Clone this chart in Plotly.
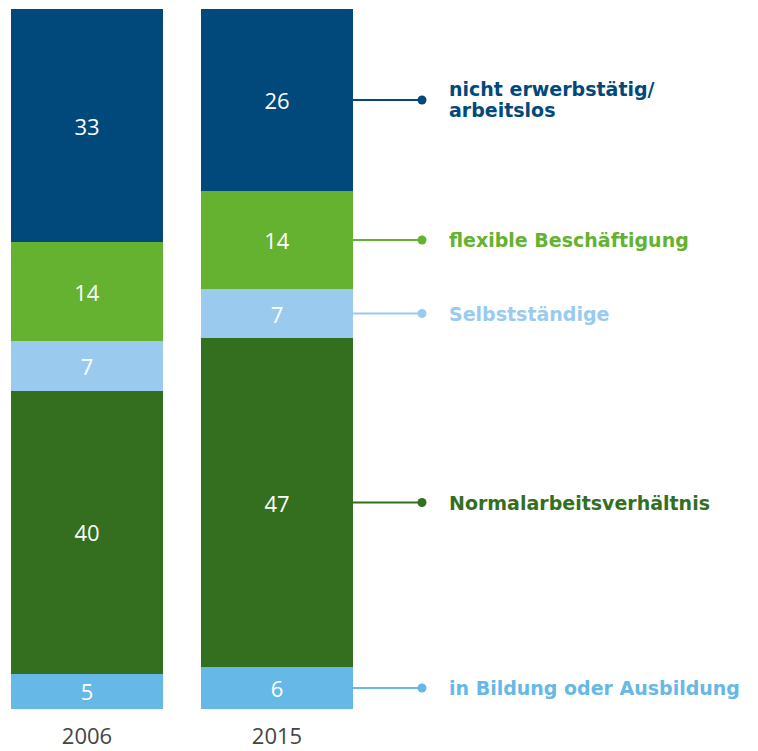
import plotly.graph_objects as go

years = ["2006", "2015"]
categories = [
    "in Bildung oder Ausbildung",
    "Normalarbeitsverhältnis",
    "Selbstständige",
    "flexible Beschäftigung",
    "nicht erwerbstätig/<br>arbeitslos",
]
values_2006 = [5, 40, 7, 14, 33]
values_2015 = [6, 47, 7, 14, 26]
colors = ["#66B8E6", "#336F1E", "#9ACBEF", "#64B22F", "#00497A"]

NUM_FONT = "Open Sans"
LBL_FONT = "DejaVu Sans"
xpos = [0, 1]
bar_w = 0.8

fig = go.Figure()
for i, cat in enumerate(categories):
    vals = [values_2006[i], values_2015[i]]
    fig.add_trace(go.Bar(
        x=xpos, y=vals, width=bar_w, marker=dict(color=colors[i], line=dict(width=0)),
        text=[str(v) for v in vals], texttemplate="%{text}",
        textposition="inside", insidetextanchor="middle", textangle=0,
        textfont=dict(color="white", size=22, family=NUM_FONT, weight=500),
        constraintext="none", showlegend=False, hoverinfo="skip",
    ))

# connector lines & labels based on the 2015 bar
total = sum(values_2015)
cum = 0
line_x0 = xpos[1] + bar_w / 2
line_x1 = 1.763
text_x = 1.894
for i, cat in enumerate(categories):
    v = values_2015[i] / total * 100
    mid = cum + v / 2
    cum += v
    fig.add_trace(go.Scatter(
        x=[line_x0, line_x1], y=[mid, mid], mode="lines",
        line=dict(color=colors[i], width=2.2), showlegend=False, hoverinfo="skip",
    ))
    fig.add_trace(go.Scatter(
        x=[line_x1], y=[mid], mode="markers",
        marker=dict(color=colors[i], size=9), showlegend=False, hoverinfo="skip",
    ))
    parts = cat.split("<br>")
    for j, p in enumerate(parts):
        shift = 0 if len(parts) == 1 else 11 - 21 * j
        fig.add_annotation(x=text_x, y=mid, text=p, showarrow=False,
                           xanchor="left", yanchor="middle", yshift=shift,
                           font=dict(color=colors[i], size=19, family=LBL_FONT, weight="bold"))

fig.update_layout(
    barmode="stack", barnorm="percent",
    width=758, height=751,
    margin=dict(l=0, r=0, t=9, b=42),
    paper_bgcolor="white", plot_bgcolor="white",
    xaxis=dict(range=[-0.458, 3.5316], tickmode="array", tickvals=xpos, ticktext=years,
               showgrid=False, zeroline=False, showline=False,
               ticks="outside", ticklen=8, tickcolor="rgba(0,0,0,0)",
               tickfont=dict(size=22, family=NUM_FONT, color="#444444", weight=500)),
    yaxis=dict(range=[0, 100], visible=False, showgrid=False, zeroline=False),
)

fig.write_html("out.html", config={"displayModeBar": False},
               post_script="document.body.style.margin='0';")
